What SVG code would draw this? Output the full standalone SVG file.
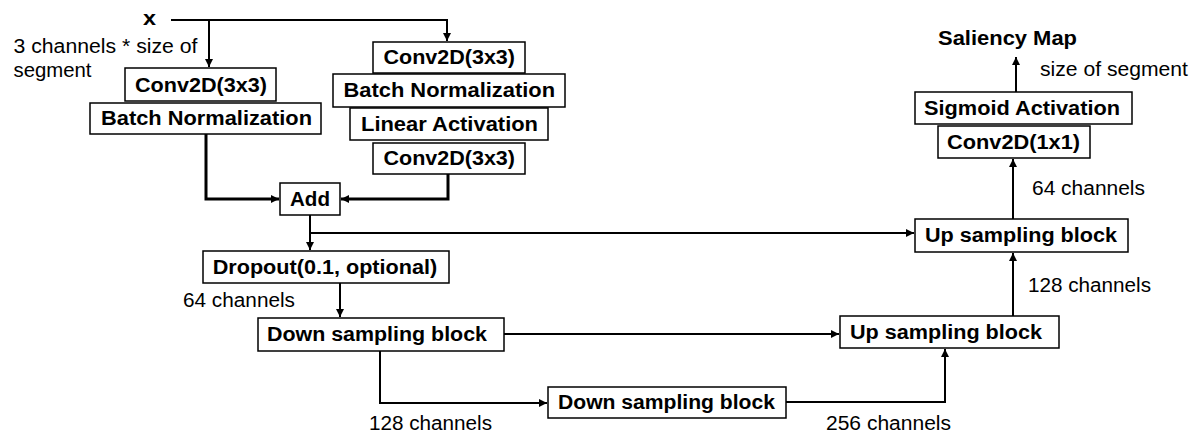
<svg xmlns="http://www.w3.org/2000/svg" width="1195" height="448" viewBox="0 0 1195 448">
<defs>
<marker id="arr" markerUnits="userSpaceOnUse" markerWidth="10" markerHeight="10" refX="8" refY="4" orient="auto">
<path d="M0,0 L8,4 L0,8 z" fill="#000"/>
</marker>
<style>
.box{fill:#fff;stroke:#000;stroke-width:1.5}
.b{font-family:"Liberation Sans",Arial,sans-serif;font-weight:bold;font-size:20px;fill:#000}
.r{font-family:"Liberation Sans",Arial,sans-serif;font-size:20px;fill:#000}
.ln{fill:none;stroke:#000;stroke-width:2}
.th{stroke-width:3}
</style>
</defs>
<rect width="1195" height="448" fill="#fff"/>
<g id="connectors">
<path class="ln" d="M171,20 H447 V41" marker-end="url(#arr)"/>
<path class="ln" d="M209,20 V67" marker-end="url(#arr)"/>
<path class="ln th" d="M206,134 V199 H279" marker-end="url(#arr)"/>
<path class="ln th" d="M448,174 V199 H341" marker-end="url(#arr)"/>
<path class="ln" d="M310,215 V250" marker-end="url(#arr)"/>
<path class="ln" d="M310,233 H914" marker-end="url(#arr)"/>
<path class="ln" d="M340,283 V317" marker-end="url(#arr)"/>
<path class="ln" d="M504,334 H839" marker-end="url(#arr)"/>
<path class="ln" d="M380,351 V403 H547" marker-end="url(#arr)"/>
<path class="ln" d="M786,402 H945 V349" marker-end="url(#arr)"/>
<path class="ln" d="M1013,316 V253" marker-end="url(#arr)"/>
<path class="ln" d="M1013,219 V159" marker-end="url(#arr)"/>
<path class="ln" d="M1016,92 V57" marker-end="url(#arr)"/>
</g>
<g id="labels">
<text class="b" x="143" y="25" font-size="21" textLength="13" lengthAdjust="spacingAndGlyphs">x</text>
<text class="r" x="13.5" y="53" textLength="184" lengthAdjust="spacingAndGlyphs">3 channels * size of</text>
<text class="r" x="13.5" y="77" textLength="78" lengthAdjust="spacingAndGlyphs">segment</text>
<text class="r" x="183" y="307" textLength="112" lengthAdjust="spacingAndGlyphs">64 channels</text>
<text class="r" x="369" y="430" textLength="123" lengthAdjust="spacingAndGlyphs">128 channels</text>
<text class="r" x="826" y="430" textLength="125" lengthAdjust="spacingAndGlyphs">256 channels</text>
<text class="r" x="1028" y="292" textLength="123" lengthAdjust="spacingAndGlyphs">128 channels</text>
<text class="r" x="1032" y="195" textLength="113" lengthAdjust="spacingAndGlyphs">64 channels</text>
<text class="r" x="1040" y="76" textLength="148" lengthAdjust="spacingAndGlyphs">size of segment</text>
<text class="b" x="938" y="45" textLength="139" lengthAdjust="spacingAndGlyphs">Saliency Map</text>
</g>
<g id="conv_left">
<rect class="box" x="125" y="68" width="151" height="33"/>
<text class="b" x="135" y="92" textLength="132" lengthAdjust="spacingAndGlyphs">Conv2D(3x3)</text>
</g>
<g id="bn_left">
<rect class="box" x="90" y="103" width="231" height="31"/>
<text class="b" x="101" y="125" textLength="211" lengthAdjust="spacingAndGlyphs">Batch Normalization</text>
</g>
<g id="conv_right_top">
<rect class="box" x="373" y="42" width="152" height="31"/>
<text class="b" x="383.5" y="64" textLength="131.5" lengthAdjust="spacingAndGlyphs">Conv2D(3x3)</text>
</g>
<g id="bn_right">
<rect class="box" x="333" y="74" width="232" height="33"/>
<text class="b" x="343.5" y="97" textLength="211.5" lengthAdjust="spacingAndGlyphs">Batch Normalization</text>
</g>
<g id="linear_act">
<rect class="box" x="350" y="108" width="198" height="32"/>
<text class="b" x="361" y="131" textLength="177" lengthAdjust="spacingAndGlyphs">Linear Activation</text>
</g>
<g id="conv_right_bottom">
<rect class="box" x="373" y="143" width="152" height="31"/>
<text class="b" x="383.5" y="165" textLength="131.5" lengthAdjust="spacingAndGlyphs">Conv2D(3x3)</text>
</g>
<g id="add">
<rect class="box" x="280" y="183" width="60" height="32"/>
<text class="b" x="290" y="206" textLength="40" lengthAdjust="spacingAndGlyphs">Add</text>
</g>
<g id="dropout">
<rect class="box" x="203" y="251" width="246" height="32"/>
<text class="b" x="212.7" y="274" textLength="224.5" lengthAdjust="spacingAndGlyphs">Dropout(0.1, optional)</text>
</g>
<g id="down1">
<rect class="box" x="258" y="318" width="246" height="33"/>
<text class="b" x="267" y="341" textLength="220" lengthAdjust="spacingAndGlyphs">Down sampling block</text>
</g>
<g id="down2">
<rect class="box" x="548" y="387" width="238" height="31"/>
<text class="b" x="558" y="409" textLength="217" lengthAdjust="spacingAndGlyphs">Down sampling block</text>
</g>
<g id="up1">
<rect class="box" x="840" y="316" width="219" height="32"/>
<text class="b" x="850" y="339" textLength="192" lengthAdjust="spacingAndGlyphs">Up sampling block</text>
</g>
<g id="up2">
<rect class="box" x="915" y="219" width="213" height="33"/>
<text class="b" x="925" y="242" textLength="192" lengthAdjust="spacingAndGlyphs">Up sampling block</text>
</g>
<g id="conv1x1">
<rect class="box" x="938" y="126" width="152" height="32"/>
<text class="b" x="947" y="149" textLength="133" lengthAdjust="spacingAndGlyphs">Conv2D(1x1)</text>
</g>
<g id="sigmoid">
<rect class="box" x="915" y="92" width="217" height="32"/>
<text class="b" x="924" y="115" textLength="196" lengthAdjust="spacingAndGlyphs">Sigmoid Activation</text>
</g>
</svg>
